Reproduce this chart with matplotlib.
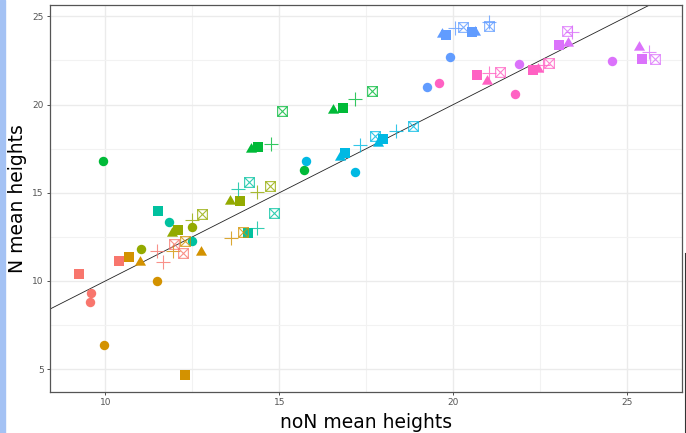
import matplotlib.pyplot as plt
from matplotlib.path import Path
from matplotlib.patches import Rectangle
from matplotlib.lines import Line2D

palette = ["#F8766D", "#D39200", "#93AA00", "#00BA38", "#00C19F",
           "#00B9E3", "#619CFF", "#DB72FB", "#FF61C3"]

# group index (0..8) -> colour from palette
circle_x = [9.58, 9.56, 9.95, 11.48, 11.03, 12.48, 9.93, 15.70, 11.84, 12.50, 15.77, 17.16, 19.25, 19.91, 21.90, 24.56, 19.60, 21.77]
circle_y = [9.30, 8.82, 6.36, 10.00, 11.82, 13.05, 16.82, 16.31, 13.35, 12.25, 16.78, 16.17, 21.00, 22.67, 22.29, 22.48, 21.23, 20.57]
circle_g = [0, 0, 1, 1, 2, 2, 3, 3, 4, 4, 5, 5, 6, 6, 7, 7, 8, 8]

square_x = [9.24, 10.39, 12.29, 10.68, 12.09, 13.87, 14.39, 16.82, 11.51, 14.11, 16.89, 17.99, 19.78, 20.53, 23.05, 25.41, 20.69, 22.30]
square_y = [10.40, 11.11, 4.68, 11.34, 12.91, 14.56, 17.57, 19.83, 13.99, 12.73, 17.23, 18.07, 23.95, 24.09, 23.37, 22.57, 21.70, 21.95]
square_g = [0, 0, 1, 1, 2, 2, 3, 3, 4, 4, 5, 5, 6, 6, 7, 7, 8, 8]

tri_x = [11.00, 12.74, 11.92, 13.58, 14.19, 16.55, 16.74, 17.84, 19.67, 20.62, 23.30, 25.34, 20.96, 22.44]
tri_y = [11.10, 11.63, 12.74, 14.52, 17.46, 19.68, 17.01, 17.82, 23.99, 24.12, 23.47, 23.24, 21.32, 21.99]
tri_g = [1, 1, 2, 2, 3, 3, 5, 5, 6, 6, 7, 7, 8, 8]

plus_x = [11.48, 11.67, 11.95, 13.61, 12.48, 14.35, 14.75, 17.18, 13.80, 14.35, 17.32, 18.35, 20.05, 21.03, 23.40, 25.63, 21.01, 22.59]
plus_y = [11.72, 11.06, 11.72, 12.42, 13.43, 15.03, 17.78, 20.30, 15.19, 13.01, 17.69, 18.48, 24.32, 24.69, 24.12, 22.99, 21.76, 22.23]
plus_g = [0, 0, 1, 1, 2, 2, 3, 3, 4, 4, 5, 5, 6, 6, 7, 7, 8, 8]

box_x = [11.98, 12.22, 12.29, 13.95, 12.79, 14.73, 15.09, 17.67, 14.14, 14.85, 17.75, 18.85, 20.29, 21.03, 23.26, 25.78, 21.34, 22.76]
box_y = [12.10, 11.59, 12.29, 12.80, 13.78, 15.41, 19.62, 20.77, 15.60, 13.86, 18.20, 18.77, 24.41, 24.47, 24.18, 22.57, 21.82, 22.33]
box_g = [0, 0, 1, 1, 2, 2, 3, 3, 4, 4, 5, 5, 6, 6, 7, 7, 8, 8]

# ggplot-like marker shapes
tri_path = Path([(-1, -0.577), (1, -0.577), (0, 1.155), (-1, -0.577)],
                [Path.MOVETO, Path.LINETO, Path.LINETO, Path.CLOSEPOLY])
box_path = Path([(-1, -1), (1, -1), (1, 1), (-1, 1), (-1, -1),
                 (-1, -1), (1, 1), (-1, 1), (1, -1)],
                [Path.MOVETO, Path.LINETO, Path.LINETO, Path.LINETO, Path.LINETO,
                 Path.MOVETO, Path.LINETO, Path.MOVETO, Path.LINETO])

fig = plt.figure(figsize=(6.86, 4.33), dpi=100)
ax = fig.add_axes([50 / 686, 1 - 392 / 433, 632 / 686, 387 / 433])
plt.rcParams['font.family'] = ['Liberation Sans', 'DejaVu Sans']

ax.set_xticks([10, 15, 20, 25])
ax.set_yticks([5, 10, 15, 20, 25])
ax.set_xticks([12.5, 17.5, 22.5], minor=True)
ax.set_yticks([7.5, 12.5, 17.5, 22.5], minor=True)
ax.grid(True, which="major", color="#EBEBEB", linewidth=1.0)
ax.grid(True, which="minor", color="#F2F2F2", linewidth=0.8)
ax.set_axisbelow(True)
ax.tick_params(which="minor", length=0)
ax.tick_params(which="major", length=2.5, width=0.6, color="#333333",
               labelsize=6.5, labelcolor="#555555", pad=2)
for s in ax.spines.values():
    s.set_color("#555555")
    s.set_linewidth(0.9)

# identity line
ax.axline((10, 10), slope=1, color="#222222", linewidth=0.6, zorder=2)

for x, y, g in zip(circle_x, circle_y, circle_g):
    ax.plot(x, y, "o", ms=6.8, color=palette[g], mew=0, zorder=3)
for x, y, g in zip(square_x, square_y, square_g):
    ax.plot(x, y, "s", ms=6.6, color=palette[g], mew=0, zorder=3)
for x, y, g in zip(tri_x, tri_y, tri_g):
    ax.plot(x, y, marker=tri_path, ms=9.2, color=palette[g], mew=0, zorder=3)
for x, y, g in zip(plus_x, plus_y, plus_g):
    ax.plot(x, y, "+", ms=9.6, color=palette[g], mew=0.8, alpha=0.8, zorder=3)
for x, y, g in zip(box_x, box_y, box_g):
    ax.plot(x, y, marker=box_path, ms=7.0, color=palette[g], mfc="none",
            mew=0.8, alpha=0.8, zorder=3)

ax.set_xlim(8.41, 26.57)
ax.set_ylim(3.71, 25.64)

ax.set_xlabel("noN mean heights", fontsize=13.5, labelpad=4)
ax.set_ylabel("N mean heights", fontsize=13.5, labelpad=4)

# screenshot edges
fig.patches.append(Rectangle((0, 0), 5 / 686, 1, transform=fig.transFigure,
                             color="#A4C2F4", zorder=0))
fig.lines.append(Line2D([684.5 / 686, 684.5 / 686], [0, 1 - 253 / 433],
                        transform=fig.transFigure, color="#333333", linewidth=0.8))

fig.savefig("out.png", dpi=100)
